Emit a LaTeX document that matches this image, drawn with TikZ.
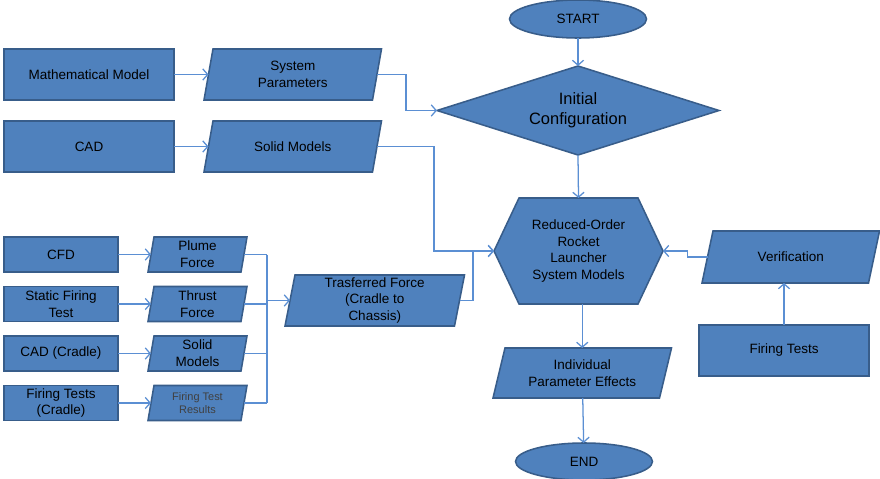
\documentclass[tikz,border=0pt]{standalone}
\usepackage{fontspec}
\setmainfont{Liberation Sans}
\usetikzlibrary{shapes.geometric,arrows.meta,calc,backgrounds}
\definecolor{boxblue}{HTML}{4F81BD}
\definecolor{boxedge}{HTML}{385D8A}
\definecolor{linkblue}{HTML}{5B8FD3}
\newcommand\pxd{0.025cm}
\newcommand\parabox[7]{%
  \node[txt,#6,minimum width={#3*\pxd},minimum height={#4*\pxd}] (#1) at #2 {#7};
  \begin{scope}[on background layer]
    \filldraw[boxstyle] ($(#1.north west)+(#5,0)$) -- ($(#1.north east)+(#5,0)$) -- ($(#1.south east)+(-#5,0)$) -- ($(#1.south west)+(-#5,0)$) -- cycle;
  \end{scope}}
\begin{document}
\begin{tikzpicture}[x=0.025cm,y=-0.025cm,
  txt/.style={align=center, inner sep=1pt, outer sep=0pt, font=\fontsize{9.6}{11.9}\selectfont, text=black},
  boxstyle/.style={fill=boxblue, draw=boxedge, line width=1.1pt, line join=miter},
  rectbox/.style={txt, rectangle, boxstyle},
  bigrect/.style={rectbox, minimum width={170*\pxd}, minimum height={51*\pxd}},
  smallrect/.style={rectbox, minimum width={114*\pxd}, minimum height={35*\pxd}},
  link/.style={draw=linkblue, line width=0.9pt},
  arr/.style={link, -{Straight Barb[length=3.5pt,width=8pt]}}]
\begin{scope}[on background layer]
  \fill[white] (0,0) rectangle (880,479);
\end{scope}
\useasboundingbox (0,0) rectangle (880,479);

% terminals
\node[txt, ellipse, boxstyle, minimum width={137*\pxd}, minimum height={38*\pxd}] (start) at (578,19) {START};
\node[txt, ellipse, boxstyle, minimum width={137*\pxd}, minimum height={37*\pxd}] (end) at (584,461.5) {END};

% decision
\node[txt, font=\fontsize{11.7}{14.2}\selectfont, minimum width={282*\pxd}, minimum height={89*\pxd}] (cfg) at (578,110.5) {Initial\\Configuration};
\begin{scope}[on background layer]
  \filldraw[boxstyle] (cfg.north) -- (cfg.east) -- (cfg.south) -- (cfg.west) -- cycle;
\end{scope}

% hexagon
\node[txt, minimum width={169*\pxd}, minimum height={106*\pxd}] (hex) at (578.5,251) {Reduced-Order\\Rocket\\Launcher\\System Models};
\begin{scope}[on background layer]
  \filldraw[boxstyle] (hex.west) -- ($(hex.north west)+(25,0)$) -- ($(hex.north east)+(-25,0)$) -- (hex.east) -- ($(hex.south east)+(-25,0)$) -- ($(hex.south west)+(25,0)$) -- cycle;
\end{scope}

% top-left sources
\node[bigrect] (mm) at (89,74.5) {Mathematical Model};
\node[bigrect] (cad) at (89,146.5) {CAD};
\parabox{sp}{(292.75,74.5)}{168.5}{51}{4.5}{}{System\\Parameters}
\parabox{sm}{(292.75,146.5)}{168.5}{51}{4.5}{}{Solid Models}

% bottom-left sources
\node[smallrect] (cfd) at (61,254.5) {CFD};
\node[smallrect] (sft) at (61,304) {Static Firing\\Test};
\node[smallrect] (cadc) at (61,353.5) {CAD (Cradle)};
\node[smallrect] (ftc) at (61,403) {Firing Tests\\(Cradle)};
\parabox{pf}{(197.5,254.5)}{93}{35}{3}{}{Plume\\Force}
\parabox{tfo}{(197.5,304)}{93}{35}{3}{}{Thrust\\Force}
\parabox{smc}{(197.5,353.5)}{93}{35}{3}{}{Solid\\Models}
\parabox{ftr}{(197.5,403)}{93}{35}{3}{font=\fontsize{7.8}{9.6}\selectfont, text=black!75}{Firing Test\\Results}
\parabox{tf}{(374.75,300.5)}{169.5}{51}{5}{}{Trasferred Force\\(Cradle to\\Chassis)}

% right side
\parabox{ver}{(790.75,257)}{166.5}{52}{5.5}{}{Verification}
\node[bigrect] (ft) at (784,350.5) {Firing Tests};
\parabox{ipe}{(582.25,373)}{166.5}{50}{6}{}{Individual\\Parameter Effects}

% connectors
\draw[arr] (start) -- (cfg.north);
\draw[arr] (mm) -- (sp);
\draw[arr] (cad) -- (sm);
\draw[arr] (sp.east) -- ++(29,0) |- (cfg.west);
\draw[arr] (cfg.south) -- (hex.north);
\draw[arr] (sm.east) -- ++(57,0) |- (hex.west);
\draw[arr] (tf.east) -- ++(13.5,0) |- (hex.west);

\draw[arr] (cfd) -- (pf);
\draw[arr] (sft) -- (tfo);
\draw[arr] (cadc) -- (smc);
\draw[arr] (ftc) -- (ftr);
\draw[link] (pf.east) -- ++(23,0) coordinate (bt);
\draw[link] (ftr.east) -- ++(23,0) coordinate (bb);
\draw[link] (bt) -- (bb);
\draw[link] (tfo.east) -- (tfo.east -| bt);
\draw[link] (smc.east) -- (smc.east -| bt);
\draw[arr] (tf.west -| bt) -- (tf.west);

\draw[arr] (ipe.north |- hex.south) -- (ipe.north);
\draw[arr] (ipe) -- (end);
\draw[arr] (ver.west) -- ++(-20,0) -- ++(0,-6) -- (hex.east);
\draw[arr] (ft.north) -- (ft.north |- ver.south);
\end{tikzpicture}
\end{document}
